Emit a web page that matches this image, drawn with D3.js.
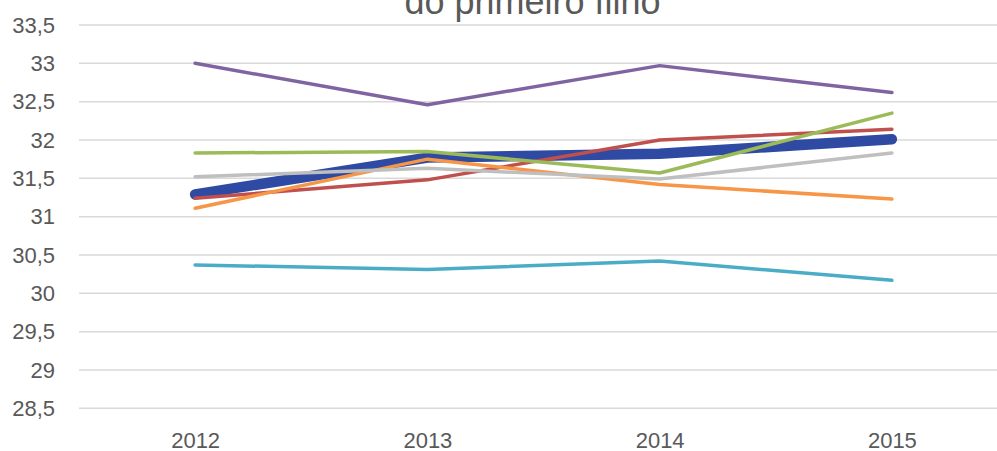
<!DOCTYPE html>
<html>
<head>
<meta charset="utf-8">
<script src="https://cdn.jsdelivr.net/npm/d3@7"></script>
<style>
  html, body { margin: 0; padding: 0; background: #fff; }
  svg { display: block; }
  text { font-family: "Liberation Sans", Arial, sans-serif; fill: #595959; }
</style>
</head>
<body>
<svg id="chart" width="997" height="451"></svg>
<script>
const titleLine = "do primeiro filho";
const years = ["2012", "2013", "2014", "2015"];
const yTicks = [28.5, 29, 29.5, 30, 30.5, 31, 31.5, 32, 32.5, 33, 33.5];

const serieAzul    = [31.29, 31.77, 31.82, 32.01];
const serieVermelha= [31.24, 31.48, 32.00, 32.14];
const serieVerde   = [31.83, 31.85, 31.57, 32.35];
const serieRoxa    = [33.00, 32.46, 32.97, 32.62];
const serieTurquesa= [30.37, 30.31, 30.42, 30.17];
const serieLaranja = [31.11, 31.75, 31.42, 31.23];
const serieCinza   = [31.52, 31.63, 31.49, 31.83];

const series = [
  { values: serieAzul,     color: "#2E4AA2", width: 10.5 },
  { values: serieVermelha, color: "#C0504D", width: 3.5 },
  { values: serieVerde,    color: "#9BBB59", width: 3.5 },
  { values: serieRoxa,     color: "#8064A2", width: 3.5 },
  { values: serieTurquesa, color: "#4BACC6", width: 3.5 },
  { values: serieLaranja,  color: "#F79646", width: 3.5 },
  { values: serieCinza,    color: "#BFBFBF", width: 3.5 }
];

(function () {
const svg = d3.select("#chart");
const pLeft = 79, pRight = 1008, pTop = 25, pBottom = 408.3;

const x = d3.scalePoint().domain(years).range([pLeft, pRight]).padding(0.5);
const y = d3.scaleLinear().domain([28.5, 33.5]).range([pBottom, pTop]);

// gridlines
svg.append("g").selectAll("line").data(yTicks).join("line")
  .attr("x1", pLeft).attr("x2", pRight)
  .attr("y1", d => y(d)).attr("y2", d => y(d))
  .attr("stroke", "#D9D9D9").attr("stroke-width", 1.5);

// y axis labels
const yAxis = d3.axisLeft(y).tickValues(yTicks).tickSize(0).tickPadding(0)
  .tickFormat(d => String(d).replace(".", ","));
const gy = svg.append("g").attr("transform", "translate(55,0)").call(yAxis);
gy.select(".domain").remove();
gy.selectAll("text").attr("font-size", 22).attr("fill", "#595959")
  .style("font-family", '"Liberation Sans", Arial, sans-serif');

// x axis labels
const xAxis = d3.axisBottom(x).tickSize(0).tickPadding(0);
const gx = svg.append("g").attr("transform", `translate(0,${pBottom})`).call(xAxis);
gx.select(".domain").remove();
gx.selectAll("text").attr("font-size", 22).attr("fill", "#595959")
  .attr("dy", null).attr("y", 40)
  .style("font-family", '"Liberation Sans", Arial, sans-serif');

// lines
const line = d3.line().x((d, i) => x(years[i])).y(d => y(d));
svg.append("g").selectAll("path").data(series).join("path")
  .attr("d", d => line(d.values))
  .attr("fill", "none")
  .attr("stroke", d => d.color)
  .attr("stroke-width", d => d.width)
  .attr("stroke-linecap", "round")
  .attr("stroke-linejoin", "round");

// title (only the second line is visible)
svg.append("text")
  .attr("x", 532.5).attr("y", 14)
  .attr("text-anchor", "middle")
  .attr("font-size", 36)
  .text(titleLine);
})();
</script>
</body>
</html>
